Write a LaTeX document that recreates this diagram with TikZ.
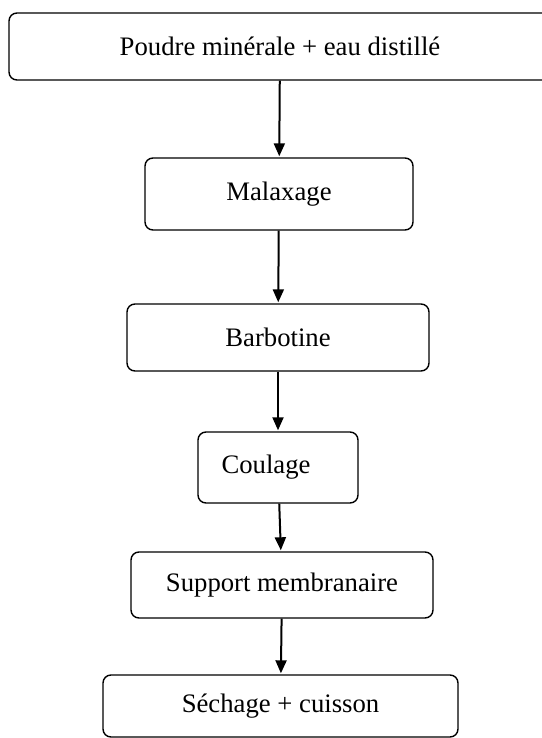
\documentclass[tikz,border=0pt]{standalone}
\usepackage{fontspec}
\setmainfont{Liberation Serif}
\usepackage{tikz}
\usetikzlibrary{arrows.meta}
\tikzstyle{arr}=[-{Triangle[length=13pt,width=11pt]},line width=2pt,shorten >=1pt]

\begin{document}
\begin{tikzpicture}[x=1pt,y=-1pt]
  \tikzstyle stepbox=[draw=black,line width=1.4pt,rounded corners=8pt,fill=white,inner sep=0pt];
  \useasboundingbox (0,0) rectangle (541,738);
  \fontsize{26.7}{32}\selectfont
  \foreach \nm/\px/\py/\pw/\ph/\ptext in {
    b1/280/46.5/542/67/Poudre minérale + eau distillé,
    b2/279/194/268/72/Malaxage,
    b3/278/337.5/302/67/Barbotine,
    b4/278/467.5/160/71/Coulage\hspace*{24pt},
    b5/282/585/302/66/Support membranaire,
    b6/280.5/706/355/62/Séchage + cuisson}
  {
    \node[stepbox,minimum width=\pw pt,minimum height=\ph pt] (\nm) at (\px,\py) {\ptext};
  }
  \foreach \a/\b in {b1/b2,b2/b3,b3/b4,b4/b5,b5/b6}
    \draw[arr] (\a) -- (\b);
\end{tikzpicture}
\end{document}
